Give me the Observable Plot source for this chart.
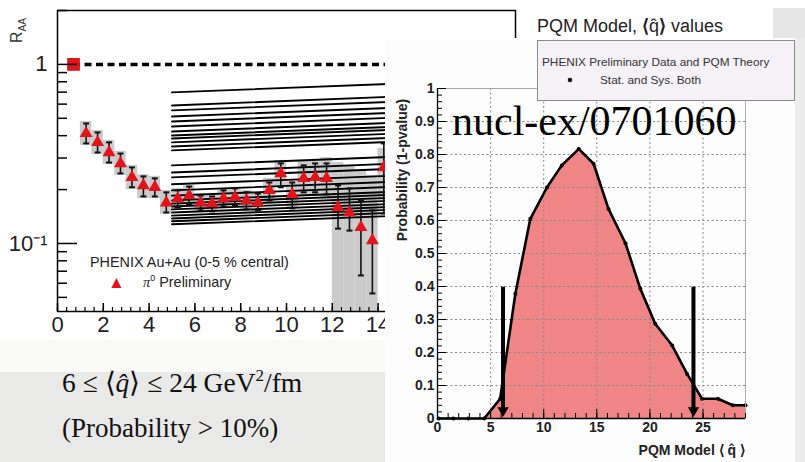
<!DOCTYPE html>
<html><head><meta charset="utf-8">
<script src="https://cdn.jsdelivr.net/npm/d3@7"></script>
<script src="https://cdn.jsdelivr.net/npm/@observablehq/plot@0.6"></script>
<style>
body{margin:0;background:#fff;}
#wrap{position:relative;width:805px;height:462px;overflow:hidden;background:#fff;}
.abs{position:absolute;}
svg{display:block;}
</style></head><body>
<div id="wrap">
  <div class="abs" style="left:0;top:340px;width:385px;height:32px;background:#fafaf8"></div>
  <div class="abs" style="left:0;top:372px;width:385px;height:90px;background:#e9e9e8"></div>
  <div class="abs" style="left:773px;top:8px;width:32px;height:32px;background:#e6e6e6"></div>
  <div class="abs" style="left:795px;top:38px;width:10px;height:424px;background:#ececec"></div>
  <div id="left" class="abs" style="left:0;top:0"></div>
  <div class="abs" style="left:385px;top:38px;width:410px;height:424px;background:#fdfdfd"></div>
  <div id="right" class="abs" style="left:385px;top:60px"></div>
  <svg class="abs" style="left:0;top:0" width="805" height="462" font-family="Liberation Sans, Arial, sans-serif">
    <text transform="translate(22,43) rotate(-90)" font-size="16" fill="#333">R<tspan font-size="10" dy="4">AA</tspan></text>
    <text x="90" y="267" font-size="14.4" fill="#222">PHENIX Au+Au (0-5 % central)</text>
    <text x="108" y="288" font-size="17" fill="#e3131b">▲</text>
    <text x="143" y="287" font-size="14.4" fill="#222"><tspan font-family="Liberation Serif, serif" font-style="italic">π</tspan><tspan font-size="9" dy="-6">0</tspan><tspan dy="6"> Preliminary</tspan></text>
    <text x="62" y="392" font-size="27.5" font-family="Liberation Serif, Times New Roman, serif" fill="#111">6 ≤ ⟨<tspan font-style="italic">q̂</tspan>⟩ ≤ 24  GeV<tspan font-size="17" dy="-11">2</tspan><tspan dy="11">/fm</tspan></text>
    <text x="62" y="437" font-size="27" font-family="Liberation Serif, Times New Roman, serif" fill="#111">(Probability &gt; 10%)</text>
    <text x="537" y="32" font-size="18" fill="#222">PQM Model, <tspan font-weight="bold">⟨</tspan>q̂<tspan font-weight="bold">⟩</tspan> values</text>
    <rect x="537.5" y="40.5" width="257" height="60" fill="#f5f1f7" stroke="#8a8a8a" stroke-width="1"/>
    <text x="542" y="66" font-size="11.8" fill="#333">PHENIX Preliminary Data and PQM Theory</text>
    <circle cx="570" cy="80" r="2.3" fill="#111"/>
    <text x="600" y="84" font-size="11.8" fill="#333">Stat. and Sys. Both</text>
    <text x="452" y="135" font-size="42" font-family="Liberation Serif, Times New Roman, serif" fill="#000">nucl-ex/0701060</text>
    <text transform="translate(407,170) rotate(-90)" text-anchor="middle" font-size="14" font-weight="bold" fill="#222">Probability (1-pvalue)</text>
    <text x="745" y="455" text-anchor="end" font-size="14" font-weight="bold" fill="#222">PQM Model ⟨ q̂ ⟩</text>
  </svg>
</div>
<script>
// ---------- Left panel: R_AA vs pT ----------
const raaX   = [1.25,1.75,2.25,2.75,3.25,3.75,4.25,4.75,5.25,5.75,6.25,6.75,7.25,7.75,8.25,8.75,9.25,9.75,10.25,10.75,11.25,11.75,12.25,12.75,13.25,13.75,14.25];
const raaY   = [0.412,0.367,0.322,0.280,0.234,0.211,0.206,0.169,0.178,0.185,0.169,0.167,0.178,0.181,0.174,0.169,0.198,0.246,0.188,0.231,0.234,0.231,0.159,0.149,0.123,0.104,0.266];
const statHi = [0.468,0.417,0.367,0.318,0.266,0.237,0.231,0.193,0.198,0.208,0.185,0.183,0.198,0.203,0.193,0.190,0.219,0.280,0.219,0.273,0.280,0.280,0.211,0.203,0.174,0.153,0.362];
const statLo = [0.362,0.322,0.283,0.246,0.206,0.183,0.183,0.149,0.159,0.165,0.153,0.151,0.161,0.163,0.155,0.153,0.174,0.206,0.157,0.193,0.193,0.188,0.121,0.118,0.0663,0.0526,0.147];
const sysHi  = [0.480,0.428,0.376,0.327,0.273,0.242,0.237,0.198,0.203,0.211,0.190,0.188,0.200,0.206,0.198,0.193,0.231,0.291,0.225,0.291,0.291,0.302,0.283,0.273,0.256,0.240,0.340];
const sysLo  = [0.353,0.314,0.276,0.240,0.200,0.178,0.178,0.145,0.157,0.163,0.151,0.149,0.159,0.159,0.153,0.149,0.169,0.208,0.157,0.183,0.183,0.176,0.0417,0.0417,0.0417,0.0417,0.174];
const refX = [0.7], refY = [1];
const modelX = [5, 15];
const modelStart = [0.698,0.590,0.554,0.512,0.480,0.450,0.422,0.401,0.386,0.367,0.348,0.331,0.273,0.249,0.234,0.214,0.198,0.185,0.174,0.167,0.161,0.155,0.149,0.143,0.138,0.133,0.128];
const modelEnd   = [0.783,0.663,0.621,0.575,0.539,0.506,0.474,0.450,0.433,0.412,0.391,0.371,0.306,0.280,0.262,0.240,0.222,0.208,0.195,0.188,0.181,0.174,0.167,0.161,0.155,0.149,0.143];
const leftXTicks = [0,2,4,6,8,10,12,14,16,18,20];
const leftXLabels = [0,2,4,6,8,10,12,14];
const leftYLabels = [1, 0.1];
const leftYMinor = [0.05,0.06,0.07,0.08,0.09,0.2,0.3,0.4,0.5,0.6,0.7,0.8,0.9,2];

// ---------- Right panel: probability vs <qhat> ----------
const qX    = [0.1,1.5,2.9,4.4,5.9,7.33,8.74,10.3,11.7,13.3,14.7,16.1,17.7,19.1,20.5,22.1,23.5,24.9,26.4,27.8,29.0];
const qProb = [0.0,0.0,0.0,0.0,0.06,0.378,0.605,0.700,0.767,0.817,0.772,0.635,0.531,0.393,0.287,0.221,0.135,0.060,0.060,0.040,0.040];
const limitX = [6.17, 24.1];
const limitTop = [0.398, 0.398];
const rightXTicks = [0,5,10,15,20,25];
const rightYTicks = [0,0.1,0.2,0.3,0.4,0.5,0.6,0.7,0.8,0.9,1];

const yMin = 0.0417, yMax = 2.0;
const W1 = 530, H1 = 340, ml = 57, mt = 10, mr = 15, mb = 29;
const iW1 = W1 - ml - mr, iH1 = H1 - mt - mb;
const raa = raaX.map((x, i) => ({x, y: raaY[i], lo: statLo[i], hi: statHi[i], slo: sysLo[i], shi: sysHi[i]}));
const models = modelStart.flatMap((s, i) => [{id: i, x: modelX[0], y: s}, {id: i, x: modelX[1], y: modelEnd[i]}]);
const ref = refX.map((x, i) => ({x, y: refY[i]}));
const xMinor = d3.range(0, 20.001, 0.4);

const left = Plot.plot({
  width: W1, height: H1, marginLeft: ml, marginTop: mt, marginRight: mr, marginBottom: mb,
  x: {domain: [0, 20], label: null},
  y: {type: "log", domain: [yMin, yMax], label: null},
  style: {fontFamily: "Liberation Sans, Arial, sans-serif", fontSize: "22px", color: "#222", background: "transparent", overflow: "visible"},
  marks: [
    Plot.rect(raa, {x1: d => d.x - 0.25, x2: d => d.x + 0.25, y1: "slo", y2: "shi", fill: "#cacaca"}),
    Plot.line(models, {x: "x", y: "y", z: "id", stroke: "#000", strokeWidth: 1.9}),
    Plot.ruleY(ref, {y: "y", x1: "x", x2: 20, stroke: "#000", strokeWidth: 3.5, strokeDasharray: "7,4.5"}),
    Plot.ruleX(raa, {x: "x", y1: "lo", y2: "hi", stroke: "#111", strokeWidth: 1.6}),
    Plot.link(raa, {x1: d => d.x - 0.13, x2: d => d.x + 0.13, y1: "hi", y2: "hi", stroke: "#111", strokeWidth: 2}),
    Plot.link(raa, {x1: d => d.x - 0.13, x2: d => d.x + 0.13, y1: "lo", y2: "lo", stroke: "#111", strokeWidth: 2}),
    Plot.dot(raa, {x: "x", y: "y", symbol: "triangle", r: 4.8, fill: "#e3131b"}),
    Plot.dot(ref, {x: "x", y: "y", symbol: "square", r: 7.2, fill: "#e3131b"}),
    Plot.frame({stroke: "#000", strokeWidth: 1.5}),
    Plot.tickX(leftXTicks, {x: d => d, insetTop: iH1 - 8, stroke: "#000", strokeWidth: 1.5}),
    Plot.tickX(xMinor, {x: d => d, insetTop: iH1 - 4, stroke: "#000", strokeWidth: 1.2}),
    Plot.tickY(leftYLabels, {y: d => d, insetRight: iW1 - 20, stroke: "#000", strokeWidth: 1.5}),
    Plot.tickY(leftYMinor, {y: d => d, insetRight: iW1 - 10, stroke: "#000", strokeWidth: 1.5}),
    Plot.axisX({ticks: leftXLabels, tickSize: 0, tickPadding: 5, tickFormat: d => String(d), label: null, fontSize: 22}),
    Plot.axisY({ticks: leftYLabels, tickSize: 0, tickPadding: 10, tickFormat: d => d === 1 ? "1" : "10⁻¹", label: null, fontSize: 22})
  ]
});
document.getElementById("left").appendChild(left);

const W2 = 410, H2 = 402, ml2 = 52, mr2 = 50, mt2 = 28, mb2 = 44;
const iW2 = W2 - ml2 - mr2, iH2 = H2 - mt2 - mb2;
const prob = qX.map((x, i) => ({x, y: qProb[i]}));
const limits = limitX.map((x, i) => ({x, top: limitTop[i]}));
const yMinor2 = d3.range(0, 1.0001, 0.02);
const xMinor2 = d3.range(0, 29.001, 1);

const right = Plot.plot({
  width: W2, height: H2, marginLeft: ml2, marginTop: mt2, marginRight: mr2, marginBottom: mb2,
  x: {domain: [0, 29], label: null},
  y: {domain: [0, 1], label: null},
  style: {fontFamily: "Liberation Sans, Arial, sans-serif", fontSize: "14px", fontWeight: "bold", color: "#222", background: "transparent", overflow: "visible"},
  marks: [
    Plot.areaY(prob, {x: "x", y: "y", fill: "#f08585"}),
    Plot.gridX(rightXTicks.slice(1), {stroke: "#888", strokeOpacity: 1, strokeDasharray: "2,2.5"}),
    Plot.gridY(rightYTicks.slice(1, -1), {stroke: "#888", strokeOpacity: 1, strokeDasharray: "2,2.5"}),
    Plot.line(prob, {x: "x", y: "y", stroke: "#000", strokeWidth: 2.6}),
    Plot.dot(prob, {x: "x", y: "y", r: 2, fill: "#000"}),
    Plot.ruleX(limits, {x: "x", y1: 0.03, y2: "top", stroke: "#000", strokeWidth: 4}),
    Plot.dot(limits, {x: "x", y: 0.024, symbol: "triangle", rotate: 180, r: 4.2, fill: "#000"}),
    Plot.frame({stroke: "#aaa", strokeWidth: 1}),
    Plot.ruleX([0], {stroke: "#000", strokeWidth: 1.3}),
    Plot.ruleY([0], {stroke: "#000", strokeWidth: 1.3}),
    Plot.tickY(rightYTicks, {y: d => d, insetRight: iW2 - 9, stroke: "#000", strokeWidth: 1}),
    Plot.tickY(yMinor2, {y: d => d, insetRight: iW2 - 5, stroke: "#000", strokeWidth: 1}),
    Plot.tickX(rightXTicks, {x: d => d, insetTop: iH2 - 9, stroke: "#000", strokeWidth: 1}),
    Plot.tickX(xMinor2, {x: d => d, insetTop: iH2 - 5, stroke: "#000", strokeWidth: 1}),
    Plot.axisX({ticks: rightXTicks, tickSize: 0, tickPadding: 4, tickFormat: d => String(d), label: null}),
    Plot.axisY({ticks: rightYTicks, tickSize: 0, tickPadding: 3, tickFormat: d => d === 0 ? "0" : d === 1 ? "1" : d.toFixed(1), label: null})
  ]
});
document.getElementById("right").appendChild(right);
</script>
</body></html>
